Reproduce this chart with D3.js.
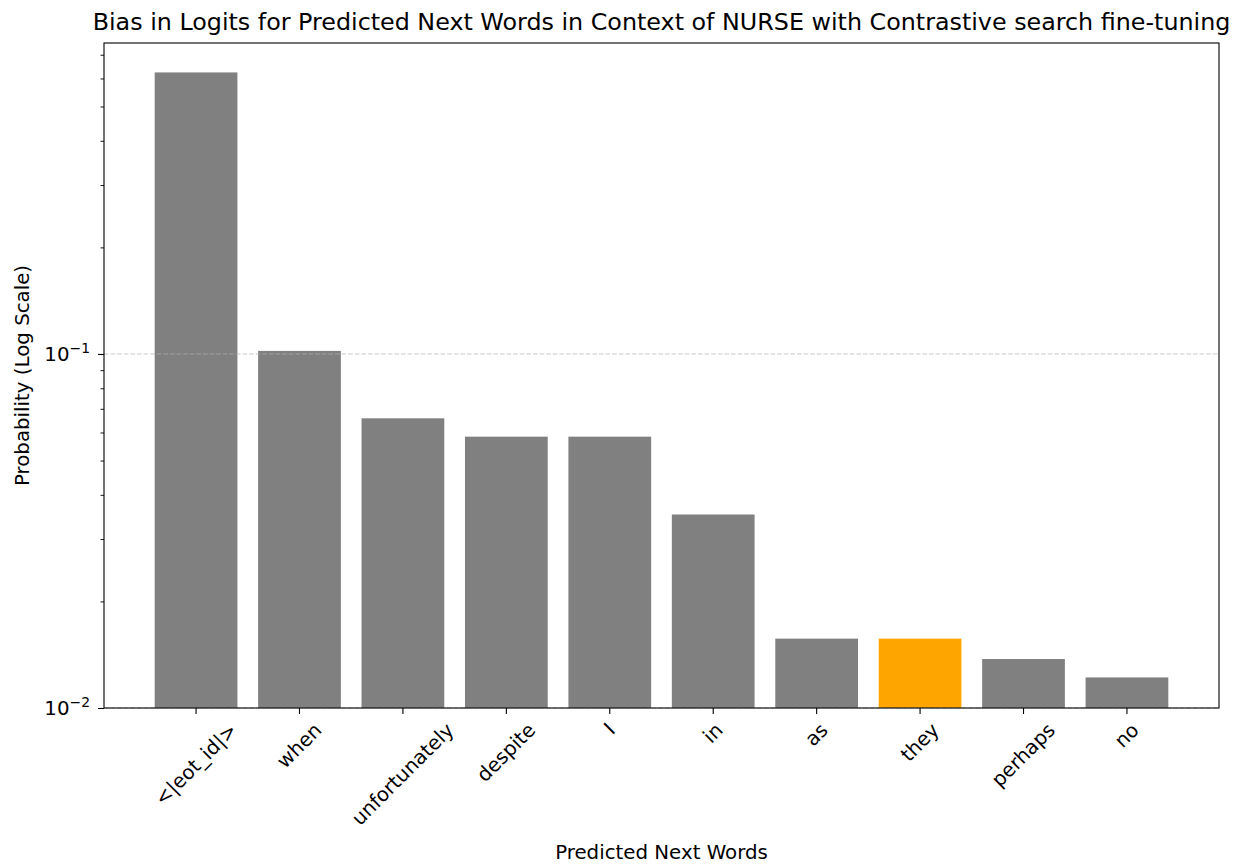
<!DOCTYPE html>
<html>

<head>
  <meta charset="utf-8">
  <script src="https://d3js.org/d3.v7.min.js"></script>
  <style>
    html,
    body {
      margin: 0;
      padding: 0;
      background: white;
    }
    text {
      font-family: "DejaVu Sans", sans-serif;
      fill: #000;
    }
  </style>
</head>

<body>
  <div id="chart"></div>

  <script>
    // predicted next words and their probabilities
    var words = ["<|eot_id|>", "when", "unfortunately", "despite", "I", "in", "as", "they", "perhaps", "no"];
    var probs = [0.624, 0.102, 0.0658, 0.0584, 0.0584, 0.0352, 0.0157, 0.0157, 0.01375, 0.0122];
    var highlightWord = "they";
    var majorTicks = [0.01, 0.1];
    var minorTicks = [0.02, 0.03, 0.04, 0.05, 0.06, 0.07, 0.08, 0.09, 0.2, 0.3, 0.4, 0.5, 0.6, 0.7];

    var W = 1247, H = 867;
    var margin = { top: 43, right: 28, bottom: 159, left: 104 };
    var width = W - margin.left - margin.right;
    var height = H - margin.top - margin.bottom;

    var svg = d3.select("#chart")
      .append("svg")
      .attr("width", W)
      .attr("height", H);

    var g = svg.append("g")
      .attr("transform", "translate(" + margin.left + "," + margin.top + ")");

    // x -> word bands (bar width 0.8, matplotlib-like margins)
    var x = d3.scaleBand()
      .domain(words)
      .range([0, width])
      .paddingInner(0.2)
      .paddingOuter(0.49);

    // y -> log probability
    var y = d3.scaleLog()
      .domain([0.01, 0.7556])
      .range([height, 0]);

    // bars
    g.selectAll("rect.bar")
      .data(words)
      .enter()
      .append("rect")
      .attr("class", "bar")
      .attr("x", d => x(d))
      .attr("y", (d, i) => y(probs[i]))
      .attr("width", x.bandwidth())
      .attr("height", (d, i) => height - y(probs[i]))
      .attr("fill", d => d === highlightWord ? "#FFA500" : "#808080");

    // grid on major y ticks (drawn above the bars like matplotlib)
    g.selectAll("line.grid")
      .data(majorTicks)
      .enter()
      .append("line")
      .attr("x1", 0)
      .attr("x2", width)
      .attr("y1", d => y(d))
      .attr("y2", d => y(d))
      .attr("stroke", "#b0b0b0")
      .attr("stroke-opacity", 0.7)
      .attr("stroke-width", 1)
      .attr("stroke-dasharray", "4.6 2");

    var fs = 19.8;

    // y axis: major ticks
    var yAxis = g.append("g")
      .call(d3.axisLeft(y).tickValues(majorTicks).tickSize(6).tickPadding(7).tickFormat(""));
    yAxis.select(".domain").remove();
    yAxis.selectAll(".tick line").attr("stroke", "#000").attr("stroke-width", 1.1);

    yAxis.selectAll(".tick")
      .append("text")
      .attr("x", -14)
      .attr("y", 0)
      .attr("dy", "0.32em")
      .attr("text-anchor", "end")
      .style("font-size", fs + "px")
      .each(function (d) {
        var t = d3.select(this);
        t.append("tspan").text("10");
        t.append("tspan")
          .attr("dy", "-0.55em")
          .style("font-size", "13.9px")
          .text("\u2212" + Math.abs(Math.round(Math.log10(d))));
      });

    // y axis: minor ticks
    var yMinor = g.append("g")
      .call(d3.axisLeft(y).tickValues(minorTicks).tickSize(3.5).tickFormat(""));
    yMinor.select(".domain").remove();
    yMinor.selectAll(".tick line").attr("stroke", "#000").attr("stroke-width", 0.9);

    // x axis
    var xAxis = g.append("g")
      .attr("transform", "translate(0," + height + ")")
      .call(d3.axisBottom(x).tickSize(6).tickFormat(""));
    xAxis.select(".domain").remove();
    xAxis.selectAll(".tick line").attr("stroke", "#000").attr("stroke-width", 1.1);

    // rotated labels, bounding box centred under each tick
    var labelTop = height + 13;
    g.selectAll("text.xlabel")
      .data(words)
      .enter()
      .append("text")
      .attr("class", "xlabel")
      .attr("text-anchor", "middle")
      .attr("dy", "0.32em")
      .style("font-size", fs + "px")
      .text(d => d)
      .each(function (d) {
        var w = this.getComputedTextLength();
        var cx = x(d) + x.bandwidth() / 2;
        var cy = labelTop + (w + fs * 0.85) / (2 * Math.SQRT2);
        d3.select(this).attr("transform", "translate(" + cx + "," + cy + ") rotate(-45)");
      });

    // frame
    g.append("rect")
      .attr("x", 0)
      .attr("y", 0)
      .attr("width", width)
      .attr("height", height)
      .attr("fill", "none")
      .attr("stroke", "#000")
      .attr("stroke-width", 1.1);

    // title
    svg.append("text")
      .attr("x", margin.left + width / 2)
      .attr("y", 30)
      .attr("text-anchor", "middle")
      .style("font-size", "23.8px")
      .text("Bias in Logits for Predicted Next Words in Context of NURSE with Contrastive search fine-tuning");

    // axis labels
    svg.append("text")
      .attr("x", margin.left + width / 2)
      .attr("y", 859)
      .attr("text-anchor", "middle")
      .style("font-size", fs + "px")
      .text("Predicted Next Words");

    svg.append("text")
      .attr("transform", "translate(29," + (margin.top + height / 2) + ") rotate(-90)")
      .attr("text-anchor", "middle")
      .style("font-size", fs + "px")
      .text("Probability (Log Scale)");
  </script>
</body>

</html>
